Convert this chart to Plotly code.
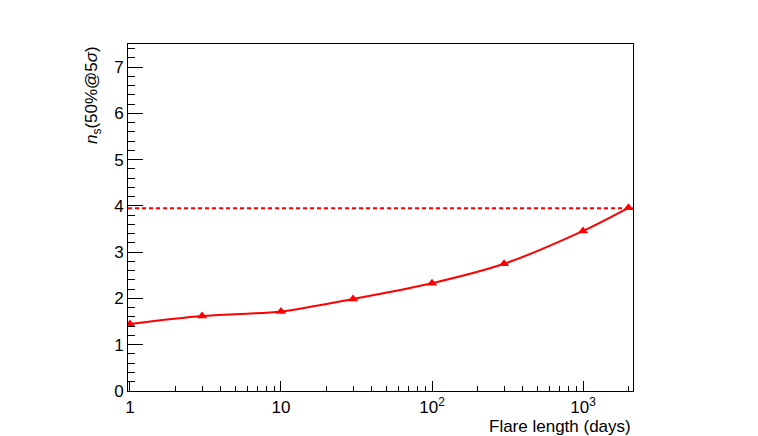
import plotly.graph_objects as go

# Data
flare_days = [1, 3, 10, 30, 100, 300, 1000, 2000]
ns_50_5sigma = [1.45, 1.62, 1.72, 1.99, 2.33, 2.75, 3.46, 3.96]
threshold = 3.95

x_tickvals = [1, 10, 100, 1000]
x_ticktext = ["1", "10", "10<sup>2</sup>", "10<sup>3</sup>"]
x_minor = [m * 10 ** d for d in range(0, 4) for m in range(2, 10) if m * 10 ** d <= 2100]

RED = "#ff0000"
FONT = "Liberation Sans"
FS = 17

fig = go.Figure()
fig.add_trace(go.Scatter(
    x=flare_days, y=ns_50_5sigma, mode="lines+markers",
    line=dict(color=RED, width=2, shape="spline", smoothing=0.8),
    marker=dict(symbol="triangle-up", size=9, color=RED),
    showlegend=False, hoverinfo="x+y",
))

fig.add_shape(type="line", xref="paper", x0=0, x1=1, yref="y", y0=threshold, y1=threshold,
              line=dict(color=RED, width=2, dash="4px,3px"))

fig.update_layout(
    width=758, height=436,
    margin=dict(l=120, r=133, t=36, b=53),
    paper_bgcolor="white", plot_bgcolor="white",
    font=dict(family=FONT, size=FS, color="black"),
    xaxis=dict(
        type="log", range=[-0.013, 3.331],
        tickvals=x_tickvals, ticktext=x_ticktext,
        ticks="inside", ticklen=10, tickwidth=1, tickcolor="black",
        minor=dict(tickvals=x_minor, ticks="inside", ticklen=5, tickcolor="black", tickwidth=1),
        showgrid=False, zeroline=False,
        showline=True, linecolor="black", linewidth=1, mirror=True,
        tickfont=dict(family=FONT, size=FS),
        ticklabelstandoff=1,
    ),
    yaxis=dict(
        range=[0, 7.5], tickvals=list(range(0, 8)),
        ticks="inside", ticklen=15, tickwidth=1, tickcolor="black",
        minor=dict(dtick=0.2, ticks="inside", ticklen=7, tickcolor="black", tickwidth=1),
        showgrid=False, zeroline=False,
        showline=True, linecolor="black", linewidth=1, mirror=True,
        tickfont=dict(family=FONT, size=FS),
    ),
    annotations=[
        dict(text="Flare length (days)", xref="paper", yref="paper", x=1, y=-0.103,
             xanchor="right", yanchor="middle", showarrow=False,
             font=dict(family=FONT, size=FS)),
        dict(text="<i>n</i><sub>s</sub>(50%@5<i>σ</i>)", xref="paper", yref="paper",
             x=-0.0693, y=1, xanchor="center", yanchor="top", textangle=-90,
             showarrow=False, font=dict(family=FONT, size=FS)),
    ],
)

fig.write_html("out.html")
